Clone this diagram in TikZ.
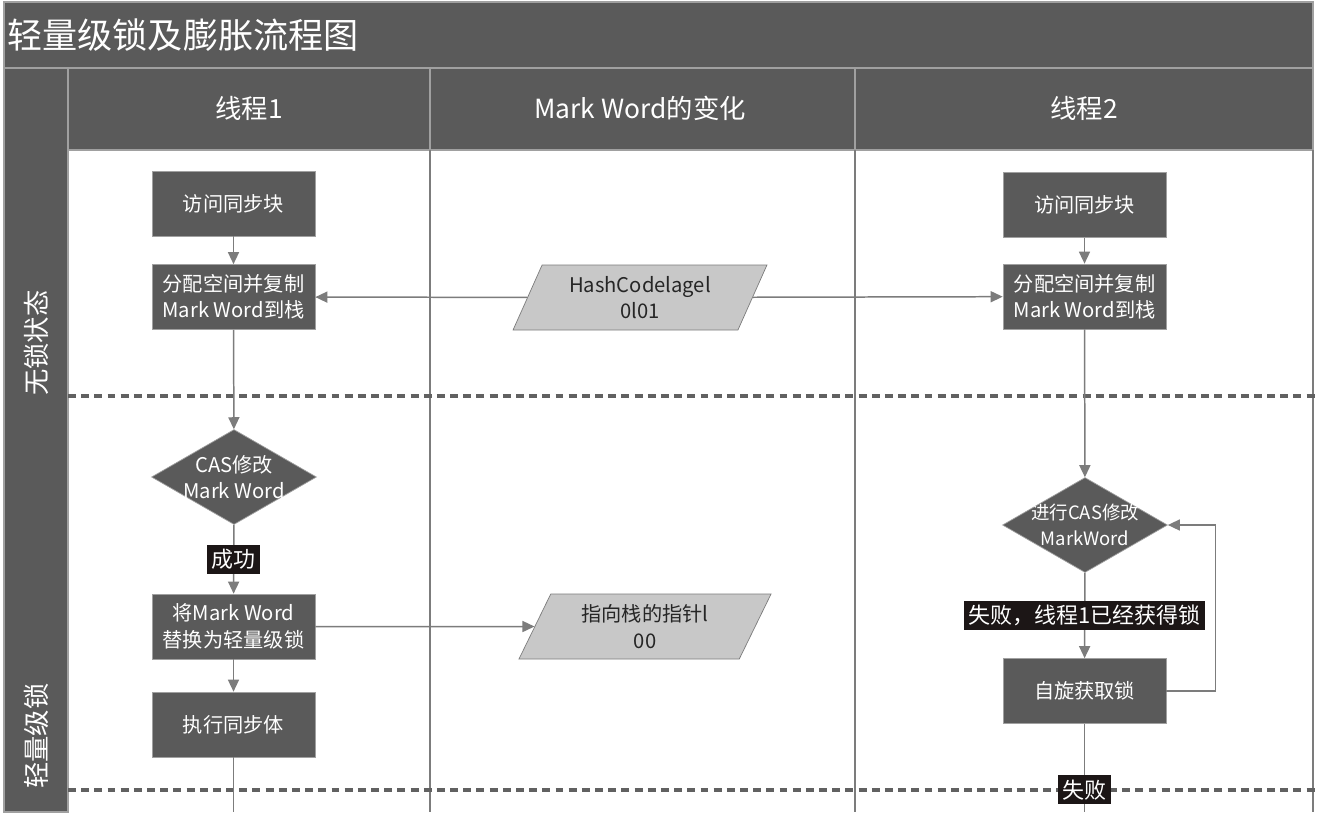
\documentclass[tikz,border=0pt]{standalone}
\usepackage{fontspec}
\setmainfont{Noto Sans CJK SC}
\usetikzlibrary{shapes.geometric,arrows.meta}
\definecolor{boxgray}{HTML}{5A5A5A}
\definecolor{rulegray}{HTML}{A0A0A0}
\definecolor{linegray}{HTML}{7C7C7C}
\definecolor{datagray}{HTML}{C8C8C8}
\definecolor{tagblack}{HTML}{1C1616}
\tikzset{
  stepbox/.style={draw=rulegray, fill=boxgray, text=white, minimum width=3.26cm,
    minimum height=1.3cm, align=center, inner sep=1pt,
    font=\fontsize{11.5}{15}\selectfont},
  decide/.style={diamond, aspect=1.75, draw=rulegray, fill=boxgray, text=white,
    minimum width=3.3cm, minimum height=1.9cm, align=center, inner sep=-4pt,
    font=\fontsize{11.5}{15}\selectfont},
  dataword/.style={trapezium, trapezium left angle=65, trapezium right angle=115,
    trapezium stretches=true, draw=linegray, fill=datagray, text=black!85,
    minimum width=5.08cm, minimum height=1.3cm, align=center, inner sep=1pt,
    font=\fontsize{11.5}{15}\selectfont},
  tag/.style={fill=tagblack, text=white, inner sep=2.5pt,
    font=\fontsize{12.5}{14}\selectfont},
  lanehead/.style={text=white, font=\fontsize{15}{18}\selectfont},
  flow/.style={draw=linegray, line width=0.85pt, -{Triangle[length=2.4mm,width=2.2mm]}},
  wire/.style={draw=linegray, line width=0.85pt},
  phase/.style={draw=black!62, line width=2.3pt, dash pattern=on 4.5pt off 3pt}
}
\begin{document}
\begin{tikzpicture}[x=0.02cm, y=-0.02cm]
  \useasboundingbox (0,0) rectangle (1317,812);
  \fill[white] (0,0) rectangle (1317,812);
  \draw[rulegray, fill=boxgray, line width=1pt] (4,2) rectangle (1313,68);
  \draw[rulegray, fill=boxgray, line width=1pt] (4,68) rectangle (68,812);
  \draw[rulegray, fill=boxgray, line width=1.2pt] (68,68) rectangle (430,150);
  \draw[rulegray, fill=boxgray, line width=1.2pt] (430,68) rectangle (855,150);
  \draw[rulegray, fill=boxgray, line width=1.2pt] (855,68) rectangle (1313,150);
  \draw[linegray, line width=0.85pt] (430,150) -- (430,812) (855,150) -- (855,812) (1313,150) -- (1313,812);
  \draw[phase] (68,396) -- (1317,396);
  \draw[phase] (68,790) -- (1317,790);

  \node[anchor=west, text=white, inner sep=0pt, font=\fontsize{20}{22}\selectfont] (title) at (7,35) {轻量级锁及膨胀流程图};
  \node[lanehead] (head1) at (249,108) {线程1};
  \node[lanehead] (headmw) at (640,108) {Mark Word的变化};
  \node[lanehead] (head2) at (1084,108) {线程2};
  \node[lanehead, rotate=90] (rowfree) at (36,343) {无锁状态};
  \node[lanehead, rotate=90] (rowlight) at (36,736) {轻量级锁};

  \node[stepbox] (visit1) at (233.5,203.5) {访问同步块};
  \node[stepbox] (alloc1) at (233.5,297) {分配空间并复制\\Mark Word到栈};
  \node[decide] (cas1) at (234,477) {CAS修改\\Mark Word};
  \node[stepbox] (swap1) at (233.5,626.5) {将Mark Word\\替换为轻量级锁};
  \node[stepbox] (exec1) at (233.5,724.5) {执行同步体};
  \coordinate (out1) at (233.5,812);

  \node[dataword] (hash) at (640,297.5) {HashCodelagel\\0l01};
  \node[dataword] (ptr) at (645,626.5) {指向栈的指针l\\00};

  \node[stepbox] (visit2) at (1084.5,205) {访问同步块};
  \node[stepbox] (alloc2) at (1084.5,296.5) {分配空间并复制\\Mark Word到栈};
  \node[decide, font=\fontsize{10.5}{15}\selectfont] (cas2) at (1085,525) {进行CAS修改\\MarkWord};
  \node[stepbox] (spin2) at (1084.5,691) {自旋获取锁};
  \coordinate (out2) at (1084.5,812);

  \begin{scope}[flow]
    \draw (visit1) -- (alloc1);
    \draw (alloc1) -- (cas1);
    \draw (cas1) -- node[tag]{成功} (swap1);
    \draw (swap1) -- (exec1);
    \draw (hash) -- (alloc1);
    \draw (hash) -- (alloc2);
    \draw (swap1) -- (ptr);
    \draw (visit2) -- (alloc2);
    \draw (alloc2) -- (cas2);
    \draw (cas2) -- node[tag]{失败，线程1已经获得锁} (spin2);
    \draw (spin2.east) -- ++(49,0) |- (cas2.east);
  \end{scope}
  \draw[wire] (exec1) -- (out1);
  \draw[wire] (spin2) -- node[tag, pos=0.75]{失败} (out2);
\end{tikzpicture}
\end{document}
